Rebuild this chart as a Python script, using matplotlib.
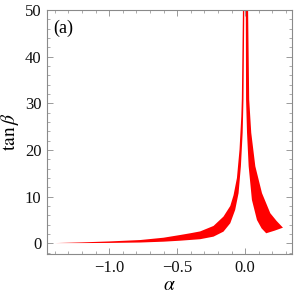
import numpy as np
import matplotlib.pyplot as plt
from matplotlib.ticker import MultipleLocator

# left branch (alpha < 0): upper and lower edge of the allowed band
alpha_left_up = [-1.397, -1.20, -1.00, -0.772, -0.60, -0.478, -0.404, -0.331, -0.233,
                 -0.16, -0.11, -0.086, -0.061, -0.042, -0.029, -0.025, -0.017]
tanb_left_up = [0.05, 0.2, 0.4, 0.7, 1.2, 1.78, 2.15, 2.55, 3.72,
                5.72, 8.0, 10.3, 14.0, 20.1, 27.2, 31.0, 50.0]
alpha_left_low = [-1.397, -1.20, -1.00, -0.772, -0.60, -0.478, -0.404, -0.331, -0.233,
                  -0.16, -0.11, -0.074, -0.049, -0.032, -0.019, -0.013, -0.007]
tanb_left_low = [0.05, 0.05, 0.08, 0.17, 0.35, 0.56, 0.72, 0.88, 1.43,
                 2.5, 4.3, 7.16, 10.75, 16.5, 23.7, 30.8, 50.0]

# right branch (alpha > 0)
alpha_right_in = [0.004, 0.006, 0.013, 0.025, 0.049, 0.086, 0.12, 0.154]
tanb_right_in = [50.0, 30.8, 23.7, 16.5, 9.3, 5.0, 3.2, 2.15]
alpha_right_bot = [0.215]
tanb_right_bot = [2.7]
alpha_right_out = [0.277, 0.23, 0.184, 0.123, 0.074, 0.044, 0.029, 0.021]
tanb_right_out = [3.35, 4.8, 6.45, 10.75, 16.5, 23.7, 30.8, 50.0]

xticks = [-1.0, -0.5, 0.0]
xticklabels = ["\u22121.0", "\u22120.5", "0.0"]
yticks = [0, 10, 20, 30, 40, 50]

plt.rcParams['font.family'] = ['Liberation Serif', 'DejaVu Serif']
plt.rcParams['mathtext.fontset'] = 'stix'

fig = plt.figure(figsize=(2.94, 3.01), dpi=100)
ax = fig.add_axes([0.160, 0.156, 0.833, 0.811])

red = '#ff0000'
xs = alpha_left_up + alpha_left_low[::-1]
ys = tanb_left_up + tanb_left_low[::-1]
ax.fill(xs, ys, color=red, lw=0)

xs = alpha_right_in + alpha_right_bot + alpha_right_out
ys = tanb_right_in + tanb_right_bot + tanb_right_out
ax.fill(xs, ys, color=red, lw=0)

ax.set_xlim(-1.456, 0.343)
ax.set_ylim(-2.3, 50)
ax.set_xticks(xticks)
ax.set_xticklabels(xticklabels)
ax.set_yticks(yticks)
ax.xaxis.set_minor_locator(MultipleLocator(0.1))
ax.yaxis.set_minor_locator(MultipleLocator(2))

frame_col = '#8a8a8a'
for s in ax.spines.values():
    s.set_color(frame_col)
    s.set_linewidth(0.8)
ax.tick_params(which='both', direction='in', top=True, right=True,
               color=frame_col, labelsize=12, labelcolor='#111111')
ax.tick_params(which='major', length=4.5, width=0.6, pad=4)
ax.tick_params(which='minor', length=2.5, width=0.5)

ax.set_xlabel(r'$\alpha$', fontsize=14, labelpad=1)
ax.set_ylabel(r'$\tan\beta$', fontsize=14, labelpad=3)
ax.text(0.025, 0.925, '(a)', transform=ax.transAxes, fontsize=13,
        ha='left', va='center')

fig.savefig('out.png', dpi=100)
